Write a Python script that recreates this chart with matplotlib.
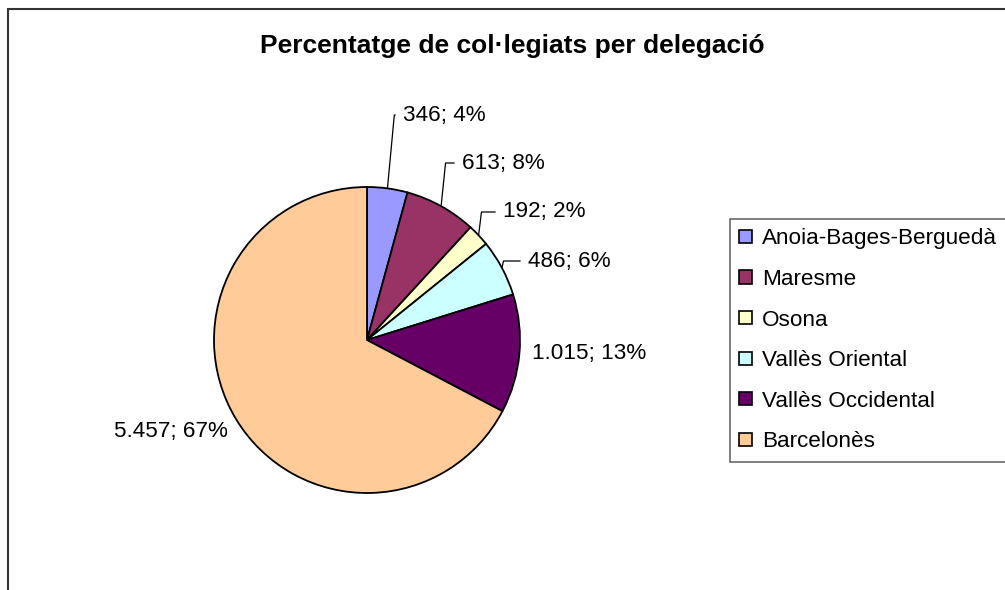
import matplotlib.pyplot as plt
from matplotlib.patches import Rectangle
import numpy as np

plt.rcParams["font.family"] = ["Liberation Sans", "DejaVu Sans"]

# dades
delegacions = ["Anoia-Bages-Berguedà", "Maresme", "Osona", "Vallès Oriental",
               "Vallès Occidental", "Barcelonès"]
colegiats = [346, 613, 192, 486, 1015, 5457]
etiquetes = ["346; 4%", "613; 8%", "192; 2%", "486; 6%", "1.015; 13%", "5.457; 67%"]
colors = ["#9999FF", "#993366", "#FFFFCC", "#CCFFFF", "#660066", "#FFCC99"]

W, H = 1005, 590
fig = plt.figure(figsize=(W / 100, H / 100), dpi=100)
ax = fig.add_axes([0, 0, 1, 1])

# marc del gràfic
fig.patches.append(Rectangle((8 / W, -0.2), 1.2, 1.2 - 9 / H, transform=fig.transFigure,
                             fill=False, edgecolor="#333333", linewidth=1.5))

cx, cy, r = 367, H - 340, 153
wedges, _ = ax.pie(colegiats, colors=colors, startangle=90, counterclock=False,
                   center=(cx, cy), radius=r, frame=True,
                   wedgeprops=dict(edgecolor="black", linewidth=1.3))
ax.set_xlim(0, W)
ax.set_ylim(0, H)
ax.set_aspect("equal")
ax.axis("off")

# posicions de les etiquetes (píxels: x, y, alineació, línia guia)
pos = [(403, 115, "left", True),
       (462, 163, "left", True),
       (503, 212, "left", True),
       (528, 261, "left", True),
       (532, 354, "left", False),
       (228, 432, "right", False)]

for w, txt, (tx, ty, ha, guia) in zip(wedges, etiquetes, pos):
    ang = np.deg2rad((w.theta1 + w.theta2) / 2)
    ex, ey = cx + r * np.cos(ang), cy + r * np.sin(ang)
    ty = H - ty
    if guia:
        ax.plot([ex, ex + (ty - ey) * 0.08 + 1, tx - 8], [ey, ty, ty],
                color="black", linewidth=0.9)
    ax.text(tx, ty, txt, ha=ha, va="center", fontsize=16.2)

ax.text(512, H - 46, "Percentatge de col·legiats per delegació", ha="center",
        va="center", fontsize=19, fontweight="bold")

leg = fig.legend(wedges, delegacions, loc="upper left",
                 bbox_to_anchor=(730 / W, 1 - 219 / H), fontsize=16.2,
                 frameon=True, fancybox=False, edgecolor="#444444",
                 handlelength=0.54, handleheight=0.54, handletextpad=0.45,
                 labelspacing=0.87, borderpad=0.42, borderaxespad=0)
leg.get_frame().set_linewidth(1.2)
for h in leg.legend_handles:
    h.set_edgecolor("black")
    h.set_linewidth(1.2)

fig.savefig("out.png", dpi=100)
